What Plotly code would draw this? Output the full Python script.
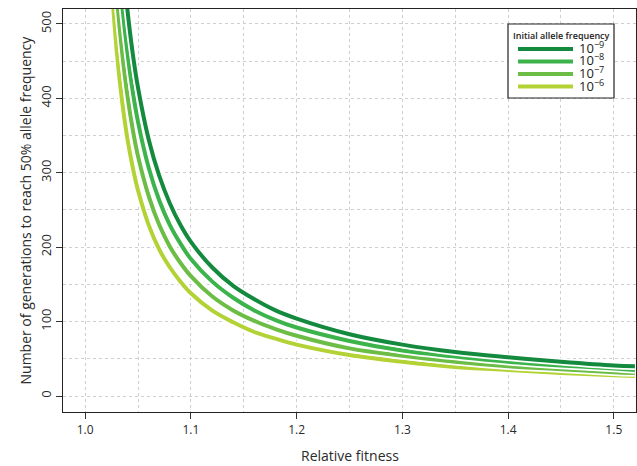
import plotly.graph_objects as go

# Relative fitness (x) and generations to reach 50% allele frequency
fitness = [1.025, 1.03, 1.035, 1.04, 1.045, 1.05, 1.06, 1.07, 1.08, 1.09, 1.10,
           1.12, 1.14, 1.16, 1.18, 1.20, 1.25, 1.30, 1.35, 1.40, 1.45, 1.50, 1.52]
gen_1e9 = [829, 691, 592, 518, 460, 414, 345, 296, 259, 230, 207,
           173, 148, 130, 115, 104, 83, 69, 59, 52, 46, 41, 40]
gen_1e8 = [737, 614, 526, 461, 409, 368, 307, 263, 230, 205, 184,
           154, 132, 115, 102, 92, 74, 61, 53, 46, 41, 37, 35]
gen_1e7 = [645, 537, 461, 403, 358, 322, 269, 230, 201, 179, 161,
           134, 115, 101, 90, 81, 64, 54, 46, 40, 36, 32, 31]
gen_1e6 = [553, 461, 395, 345, 307, 276, 230, 197, 173, 154, 138,
           115, 99, 86, 77, 69, 55, 46, 39, 35, 31, 28, 27]

legend_labels = ["10<sup>−9</sup>", "10<sup>−8</sup>", "10<sup>−7</sup>", "10<sup>−6</sup>"]
series_values = [gen_1e9, gen_1e8, gen_1e7, gen_1e6]
colors = ["#138a3e", "#3cb44b", "#6cbd45", "#b3d235"]

x_ticks = [1.0, 1.1, 1.2, 1.3, 1.4, 1.5]
x_ticktext = ["1.0", "1.1", "1.2", "1.3", "1.4", "1.5"]
y_ticks = [0, 100, 200, 300, 400, 500]

FONT = "Open Sans"
TXT = "#2a2a2a"
GRID = "#cfcfcf"
W, H = 637, 466
L, R, T, B = 63, 1, 9, 54
PW, PH = W - L - R, H - T - B


def px(xp):
    return (xp - L) / PW


def py(yp):
    return (H - B - yp) / PH


fig = go.Figure()
for name, ys, col in reversed(list(zip(legend_labels, series_values, colors))):
    fig.add_trace(go.Scatter(x=fitness, y=ys, mode="lines",
                             line=dict(color="white", width=7.5, shape="spline"),
                             hoverinfo="skip", showlegend=False))
    fig.add_trace(go.Scatter(x=fitness, y=ys, mode="lines", name=name,
                             line=dict(color=col, width=4, shape="spline"),
                             showlegend=False))

grid = dict(showgrid=True, gridcolor=GRID, gridwidth=1, griddash="dot")

fig.update_xaxes(range=[0.979, 1.521], tickvals=x_ticks, ticktext=x_ticktext,
                 ticks="outside", ticklen=6, tickwidth=1, tickcolor="#333",
                 showline=True, linecolor="#222", linewidth=1.3, mirror=True,
                 zeroline=False, tickfont=dict(family=FONT, size=12, color=TXT),
                 minor=dict(dtick=0.05, tick0=1.0, showgrid=True, gridcolor=GRID,
                            griddash="dot", gridwidth=1, ticks=""),
                 **grid)
fig.update_yaxes(range=[-21.5, 520], tickvals=y_ticks, tickangle=-90,
                 ticks="outside", ticklen=6, tickwidth=1, tickcolor="#333",
                 showline=True, linecolor="#222", linewidth=1.3, mirror=True,
                 zeroline=False, tickfont=dict(family=FONT, size=13, color=TXT),
                 minor=dict(dtick=50, tick0=0, showgrid=True, gridcolor=GRID,
                            griddash="dot", gridwidth=1, ticks=""),
                 **grid)

shapes = [dict(type="rect", xref="paper", yref="paper",
               x0=px(508), x1=px(614), y0=py(98), y1=py(24),
               line=dict(color="#222", width=1.2), fillcolor="white", layer="above")]
annotations = [dict(text="Initial allele frequency", xref="paper", yref="paper",
                    x=px(561), y=py(35), xanchor="center", yanchor="middle",
                    showarrow=False,
                    font=dict(family=FONT, size=9, color="#222", weight=600))]
row_y = [49, 61.5, 74, 86.5]
for lab, col, yr in zip(legend_labels, colors, row_y):
    shapes.append(dict(type="line", xref="paper", yref="paper",
                       x0=px(518), x1=px(573), y0=py(yr), y1=py(yr),
                       line=dict(color=col, width=4), layer="above"))
    annotations.append(dict(text=lab, xref="paper", yref="paper",
                            x=px(577), y=py(yr - 1.5), xanchor="left", yanchor="middle",
                            showarrow=False,
                            font=dict(family=FONT, size=13, color="#222")))

annotations.append(dict(text="Relative fitness", xref="paper", yref="paper",
                        x=px(350), y=py(455), xanchor="center", yanchor="middle",
                        showarrow=False, font=dict(family=FONT, size=14, color=TXT)))
annotations.append(dict(text="Number of generations to reach 50% allele frequency",
                        xref="paper", yref="paper", x=px(25), y=0.5,
                        xanchor="center", yanchor="middle", textangle=-90,
                        showarrow=False, font=dict(family=FONT, size=14, color=TXT)))

fig.update_layout(width=W, height=H, margin=dict(l=L, r=R, t=T, b=B),
                  plot_bgcolor="white", paper_bgcolor="white",
                  shapes=shapes, annotations=annotations, showlegend=False)

fig.write_html("out.html", config={"displayModeBar": False},
               post_script="document.body.style.margin='0';document.body.style.overflow='hidden';")
